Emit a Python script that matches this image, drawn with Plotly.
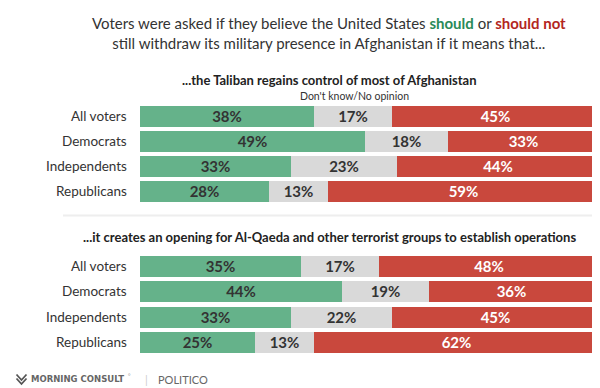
import plotly.graph_objects as go

W, H = 600, 388

groups = ["All voters", "Democrats", "Independents", "Republicans"]
taliban_should = [38, 49, 33, 28]
taliban_dk = [17, 18, 23, 13]
taliban_shouldnot = [45, 33, 44, 59]
alqaeda_should = [35, 44, 33, 25]
alqaeda_dk = [17, 19, 22, 13]
alqaeda_shouldnot = [48, 36, 45, 62]

subtitle1 = "...the Taliban regains control of most of Afghanistan"
subtitle2 = "...it creates an opening for Al-Qaeda and other terrorist groups to establish operations"
dk_label = "Don't know/No opinion"

GREEN = "#65b28a"
GRAY = "#d9d9d9"
RED = "#c9483d"
DARK = "#333333"
FONT = "Lato, 'Open Sans', sans-serif"


def px(x):
    return x / W


def py(y):
    return 1 - y / H


fig = go.Figure()

sections = [
    ("y", (taliban_should, taliban_dk, taliban_shouldnot)),
    ("y2", (alqaeda_should, alqaeda_dk, alqaeda_shouldnot)),
]
colors = [GREEN, GRAY, RED]
txtcolors = [DARK, DARK, "#ffffff"]
names = ["Should", dk_label, "Should not"]
for yaxis, series in sections:
    for vals, col, tc, nm in zip(series, colors, txtcolors, names):
        fig.add_trace(go.Bar(
            x=vals, y=groups, orientation="h", yaxis=yaxis,
            xaxis="x" if yaxis == "y" else "x2",
            marker=dict(color=col, line=dict(width=0)),
            width=0.84,
            text=[f"{v}%" for v in vals],
            textposition="inside", insidetextanchor="middle",
            textfont=dict(family=FONT, size=15, color=tc, weight="bold"),
            name=nm, showlegend=False, hoverinfo="skip",
            cliponaxis=False,
        ))

xdom = [px(132), px(591)]
top_dom = [py(95.5 + 100), py(95.5)]
bot_dom = [py(245.5 + 101), py(245.5)]

fig.update_layout(
    width=W, height=H, barmode="stack",
    margin=dict(l=0, r=0, t=0, b=0),
    paper_bgcolor="white", plot_bgcolor="white",
    bargap=0,
    uniformtext=dict(minsize=15, mode="show"),
    font=dict(family=FONT, color=DARK),
    xaxis=dict(domain=xdom, range=[0, 100], visible=False, fixedrange=True),
    xaxis2=dict(domain=xdom, range=[0, 100], visible=False, anchor="y2"),
    yaxis=dict(domain=top_dom, range=[3.5, -0.5], visible=False, type="category",
               categoryorder="array", categoryarray=groups),
    yaxis2=dict(domain=bot_dom, range=[3.5, -0.5], visible=False, type="category",
                categoryorder="array", categoryarray=groups, anchor="x2"),
)

ann = []
ann.append(dict(
    x=px(321), y=py(25.5), xref="paper", yref="paper", xanchor="center", yanchor="middle",
    showarrow=False, align="center",
    text=("Voters were asked if they believe the United States "
          "<span style='color:#2a8a58'><b>should</b></span> or "
          "<span style='color:#b3261e'><b>should not</b></span><br>"
          "still withdraw its military presence in Afghanistan if it means that..."),
    font=dict(family=FONT, size=15, color=DARK),
))
ann.append(dict(x=px(321), y=py(71.5), xref="paper", yref="paper", xanchor="center",
                yanchor="middle", showarrow=False, text=f"<b>{subtitle1}</b>",
                font=dict(family=FONT, size=13, color="#222222")))
ann.append(dict(x=px(346), y=py(88), xref="paper", yref="paper", xanchor="center",
                yanchor="middle", showarrow=False, text=dk_label,
                font=dict(family=FONT, size=10.5, color=DARK)))
ann.append(dict(x=px(321), y=py(229), xref="paper", yref="paper", xanchor="center",
                yanchor="middle", showarrow=False, text=f"<b>{subtitle2}</b>",
                font=dict(family=FONT, size=13, color="#222222")))
for yref in ["y", "y2"]:
    for g in groups:
        ann.append(dict(x=px(121), y=g, xref="paper", yref=yref, xanchor="right",
                        yanchor="middle", showarrow=False, text=g,
                        font=dict(family=FONT, size=13.5, color=DARK)))
ann.append(dict(x=px(21), y=py(371), xref="paper", yref="paper", xanchor="left",
                yanchor="middle", showarrow=False, text="<b>MORNING CONSULT</b>",
                font=dict(family="DejaVu Sans", size=8.5, color="#666666")))
ann.append(dict(x=px(118), y=py(367), xref="paper", yref="paper", xanchor="left",
                yanchor="middle", showarrow=False, text="°",
                font=dict(family=FONT, size=6, color="#999999")))
ann.append(dict(x=px(138), y=py(371), xref="paper", yref="paper", xanchor="center",
                yanchor="middle", showarrow=False, text="|",
                font=dict(family=FONT, size=11, color="#cccccc")))
ann.append(dict(x=px(148), y=py(371), xref="paper", yref="paper", xanchor="left",
                yanchor="middle", showarrow=False, text="POLITICO",
                font=dict(family=FONT, size=11, color="#666666")))
fig.update_layout(annotations=ann)


def path(points_list):
    s = ""
    for pts in points_list:
        for i, (x, y) in enumerate(pts):
            s += ("M" if i == 0 else "L") + f"{px(x):.5f},{py(y):.5f} "
    return s


shapes = [
    dict(type="line", xref="paper", yref="paper", x0=px(55), x1=px(592),
         y0=py(207.5), y1=py(207.5), line=dict(color="#eeeeee", width=2)),
    dict(type="line", xref="paper", yref="paper", x0=px(8), x1=px(600),
         y0=py(386.5), y1=py(386.5), line=dict(color="#f2f2f2", width=2)),
    dict(type="path", xref="paper", yref="paper",
         path=path([[(8.5, 366.5), (13.5, 372), (18.5, 366.5)],
                    [(8.5, 370.5), (13.5, 376), (18.5, 370.5)]]),
         line=dict(color="#555555", width=1.8)),
]
fig.update_layout(shapes=shapes)

fig.write_html("out.html")
